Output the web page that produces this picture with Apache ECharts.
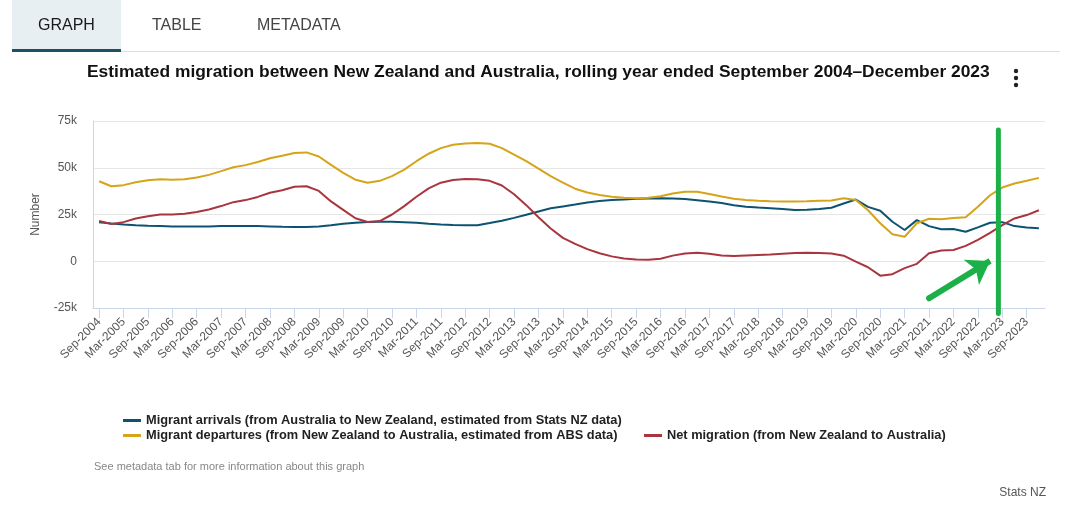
<!DOCTYPE html>
<html>
<head>
<meta charset="utf-8">
<script src="https://cdn.jsdelivr.net/npm/echarts@6/dist/echarts.min.js"></script>
<style>
html,body{margin:0;padding:0;background:#fff;}
#chart{width:1080px;height:518px;}
</style>
</head>
<body>
<div id="chart"></div>
<script>
const categories = [
 'Sep-2004','Dec-2004','Mar-2005','Jun-2005','Sep-2005','Dec-2005','Mar-2006','Jun-2006',
 'Sep-2006','Dec-2006','Mar-2007','Jun-2007','Sep-2007','Dec-2007','Mar-2008','Jun-2008',
 'Sep-2008','Dec-2008','Mar-2009','Jun-2009','Sep-2009','Dec-2009','Mar-2010','Jun-2010',
 'Sep-2010','Dec-2010','Mar-2011','Jun-2011','Sep-2011','Dec-2011','Mar-2012','Jun-2012',
 'Sep-2012','Dec-2012','Mar-2013','Jun-2013','Sep-2013','Dec-2013','Mar-2014','Jun-2014',
 'Sep-2014','Dec-2014','Mar-2015','Jun-2015','Sep-2015','Dec-2015','Mar-2016','Jun-2016',
 'Sep-2016','Dec-2016','Mar-2017','Jun-2017','Sep-2017','Dec-2017','Mar-2018','Jun-2018',
 'Sep-2018','Dec-2018','Mar-2019','Jun-2019','Sep-2019','Dec-2019','Mar-2020','Jun-2020',
 'Sep-2020','Dec-2020','Mar-2021','Jun-2021','Sep-2021','Dec-2021','Mar-2022','Jun-2022',
 'Sep-2022','Dec-2022','Mar-2023','Jun-2023','Sep-2023','Dec-2023'
];

const arrivals = [
 20900,20200,19700,19300,19000,18800,18600,18600,18600,18600,18800,18800,18800,18800,18600,18400,
 18300,18300,18600,19200,20000,20600,21000,21100,21100,20900,20600,20100,19700,19400,19200,19300,
 20400,21700,23200,24900,26600,28300,29300,30300,31400,32200,32700,33000,33400,33600,33700,33600,
 33300,32600,31900,31100,30000,29200,28700,28400,28000,27400,27500,27900,28600,30900,33000,29100,
 27000,21100,16700,22000,18800,17100,17200,15800,18100,20600,20900,18800,18100,17700
];

const departures = [
 42800,40100,40700,42200,43300,43800,43600,43900,44800,46200,48200,50300,51400,53100,55100,56400,
 57900,58200,56000,51500,47300,43600,42000,43000,45500,49000,53500,57500,60500,62300,63000,63200,
 62800,60500,57000,53500,49500,45500,42000,38800,36800,35400,34500,33900,33700,34000,34800,36200,
 37200,37200,36000,34600,33400,32700,32300,32100,32000,32000,32100,32300,32500,33700,32700,27300,
 20300,14400,13100,20300,22700,22400,23100,23500,29100,35300,39400,41600,43000,44600
];

const netMigration = [
 21600,19900,20900,22900,24100,25000,25000,25400,26300,27700,29500,31600,32700,34400,36600,38000,
 39800,40100,37600,32000,27500,23000,21000,21500,25000,29500,34500,39000,42000,43500,44000,43800,
 43000,40500,35800,30000,23500,17500,12500,9300,6500,4300,2600,1500,900,800,1300,3000,
 4200,4600,4000,3100,2800,3100,3400,3600,4000,4400,4600,4400,4100,3000,-200,-3200,
 -7700,-6900,-3700,-1400,4300,5700,6000,8200,11400,15200,19300,22900,24700,27300
];

const yTicks = [-25000, 0, 25000, 50000, 75000];

const seriesNames = [
 'Migrant arrivals (from Australia to New Zealand, estimated from Stats NZ data)',
 'Migrant departures (from New Zealand to Australia, estimated from ABS data)',
 'Net migration (from New Zealand to Australia)'
];

// hand-drawn annotation (in data coordinates: category index, value)
const annotationVertical = {fromIndex: 73, toIndex: 74, fraction: 0.68, top: 70200, bottom: -28000};
const annotationArrow = [[67.8, -19800], [72.9, 200]];

const colors = ['#0c5271', '#d5a419', '#a9353e'];
const FONT = '"Liberation Sans", Arial, sans-serif';
const GREEN = '#1db048';

const chart = echarts.init(document.getElementById('chart'), null, {renderer: 'canvas'});

const legendText = {fontFamily: FONT, fontSize: 12.8, fontWeight: 'bold', color: '#222'};

const option = {
  animation: false,
  backgroundColor: '#ffffff',
  title: {
    text: 'Estimated migration between New Zealand and Australia, rolling year ended September 2004\u2013December 2023',
    left: 82,
    top: 59,
    textStyle: {fontFamily: FONT, fontSize: 17.4, fontWeight: 'bold', color: '#111'}
  },
  grid: {left: 93, right: 35, top: 121, bottom: 210, containLabel: false},
  xAxis: {
    type: 'category',
    data: categories,
    boundaryGap: true,
    axisLine: {show: true, onZero: false, lineStyle: {color: '#ccd6eb', width: 1}},
    axisTick: {show: true, interval: 1, alignWithLabel: true, length: 10, lineStyle: {color: '#ccd6eb'}},
    axisLabel: {interval: 1, rotate: 45, margin: 12, fontFamily: FONT, fontSize: 12, color: '#555'},
    splitLine: {show: false}
  },
  yAxis: {
    type: 'value',
    min: yTicks[0],
    max: yTicks[yTicks.length - 1],
    interval: 25000,
    name: 'Number',
    nameLocation: 'middle',
    nameRotate: 90,
    nameGap: 51,
    nameTextStyle: {fontFamily: FONT, fontSize: 12, color: '#555'},
    axisLine: {show: true, lineStyle: {color: '#ccd6eb'}},
    axisTick: {show: false},
    axisLabel: {
      margin: 16, fontFamily: FONT, fontSize: 12, color: '#555',
      formatter: v => v === 0 ? '0' : (v / 1000) + 'k'
    },
    splitLine: {show: true, lineStyle: {color: '#e6e6e6', width: 1}}
  },
  legend: [
    {data: [seriesNames[0]], left: 118, top: 409, icon: 'rect', itemWidth: 18, itemHeight: 3,
     itemGap: 6, selectedMode: false, textStyle: legendText},
    {data: [seriesNames[1]], left: 118, top: 424, icon: 'rect', itemWidth: 18, itemHeight: 3,
     itemGap: 6, selectedMode: false, textStyle: legendText},
    {data: [seriesNames[2]], left: 639, top: 424, icon: 'rect', itemWidth: 18, itemHeight: 3,
     itemGap: 6, selectedMode: false, textStyle: legendText}
  ],
  series: [
    {name: seriesNames[0], type: 'line', data: arrivals, symbol: 'none', color: colors[0],
     lineStyle: {width: 2}},
    {name: seriesNames[1], type: 'line', data: departures, symbol: 'none', color: colors[1],
     lineStyle: {width: 2}},
    {name: seriesNames[2], type: 'line', data: netMigration, symbol: 'none', color: colors[2],
     lineStyle: {width: 2},
     markLine: {
        silent: true, animation: false,
        label: {show: false},
        emphasis: {disabled: true},
        data: [
          [
            {coord: annotationArrow[0], symbol: 'circle', symbolSize: 6, lineStyle: {color: GREEN, width: 6, type: 'solid'}},
            {coord: annotationArrow[1], symbol: 'arrow', symbolSize: 22}
          ]
        ]
     }
    }
  ],
  graphic: [
    {type: 'rect', left: 12, top: 0, shape: {width: 109, height: 50}, style: {fill: '#e7eff2'}, silent: true},
    {type: 'rect', left: 121, top: 51, shape: {width: 939, height: 1}, style: {fill: '#dddddd'}, silent: true},
    {type: 'rect', left: 12, top: 49, shape: {width: 109, height: 3}, style: {fill: '#1d4f66'}, silent: true},
    {type: 'text', left: 38, top: 18, style: {text: 'GRAPH', font: '16px ' + FONT, fill: '#1a1a1a'}, silent: true},
    {type: 'text', left: 152, top: 18, style: {text: 'TABLE', font: '16px ' + FONT, fill: '#444'}, silent: true},
    {type: 'text', left: 257, top: 18, style: {text: 'METADATA', font: '16px ' + FONT, fill: '#444'}, silent: true},
    {type: 'circle', shape: {cx: 1016, cy: 71, r: 2.2}, style: {fill: '#222'}, silent: true},
    {type: 'circle', shape: {cx: 1016, cy: 78, r: 2.2}, style: {fill: '#222'}, silent: true},
    {type: 'circle', shape: {cx: 1016, cy: 85, r: 2.2}, style: {fill: '#222'}, silent: true},
    {type: 'text', left: 94, top: 461, style: {text: 'See metadata tab for more information about this graph', font: '11px ' + FONT, fill: '#888'}, silent: true},
    {type: 'text', right: 34, top: 487, style: {text: 'Stats NZ', font: '12px ' + FONT, fill: '#555'}, silent: true}
  ]
};

chart.setOption(option);

// vertical hand-drawn marker line, positioned from data coordinates through the chart's own axes
const a = chart.convertToPixel({gridIndex: 0}, [annotationVertical.fromIndex, annotationVertical.top]);
const b = chart.convertToPixel({gridIndex: 0}, [annotationVertical.toIndex, annotationVertical.bottom]);
if (a && b) {
  const xPix = a[0] + (b[0] - a[0]) * annotationVertical.fraction;
  chart.setOption({
    graphic: option.graphic.concat([{
      type: 'line', silent: true, z: 100,
      shape: {x1: xPix, y1: a[1], x2: xPix, y2: b[1]},
      style: {stroke: GREEN, lineWidth: 5, lineCap: 'round'}
    }])
  });
}
</script>
</body>
</html>
